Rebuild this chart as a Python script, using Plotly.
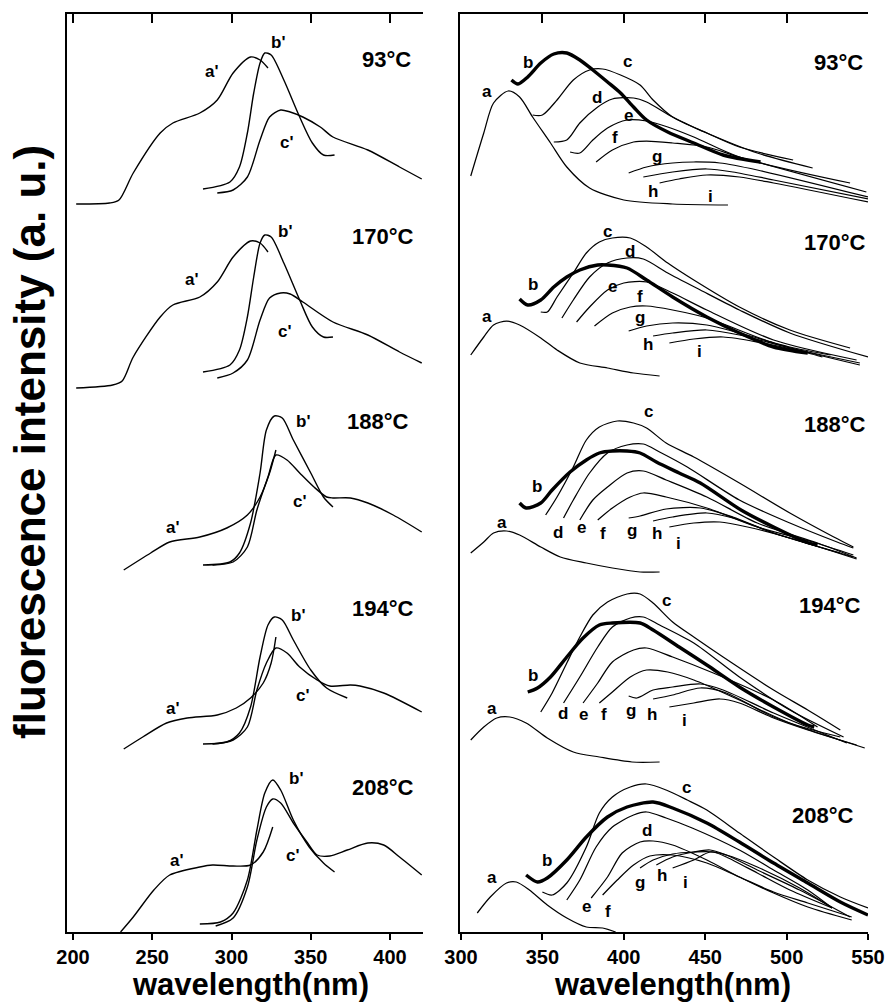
import plotly.graph_objects as go

# ---------------- DATA ----------------
TEMPS = ["93°C", "170°C", "188°C", "194°C", "208°C"]
LEFT_NAMES = ["a'", "b'", "c'"]
RIGHT_NAMES = ["a", "b", "c", "d", "e", "f", "g", "h", "i"]

LEFT_TICKS = [200, 250, 300, 350, 400]
RIGHT_TICKS = [300, 350, 400, 450, 500, 550]

# Left panel (stacked intensity, a.u.) -- curves a', b', c'
L93_WL = [[202, 223, 229, 238, 255, 263, 280, 291, 301, 312, 318, 323],
          [282, 299, 305, 310, 314, 318, 321, 325, 333, 343, 351, 358, 365],
          [291, 301, 310, 318, 324, 331, 337, 345, 356, 364, 386, 406, 420]]
L93_I = [[728, 729, 732, 759, 799, 809, 819, 832, 859, 875, 872, 864],
         [743, 750, 765, 799, 839, 869, 879, 877, 852, 815, 789, 777, 777],
         [739, 742, 755, 792, 815, 822, 820, 815, 805, 795, 782, 765, 753]]

L170_WL = [[202, 225, 231, 238, 255, 263, 280, 291, 301, 312, 318, 323],
           [282, 299, 305, 310, 314, 318, 321, 325, 333, 343, 351, 358, 364],
           [291, 301, 310, 318, 324, 331, 337, 345, 364, 386, 406, 420]]
L170_I = [[544, 547, 551, 575, 615, 627, 635, 650, 675, 691, 689, 680],
          [560, 567, 582, 615, 655, 689, 697, 695, 669, 632, 605, 595, 595],
          [554, 559, 572, 612, 634, 639, 638, 630, 610, 597, 580, 569]]

L188_WL = [[232, 249, 261, 280, 297, 310, 318, 324, 328],
           [282, 299, 305, 312, 318, 322, 327, 332, 339, 350, 358, 364],
           [288, 301, 310, 316, 323, 328, 335, 343, 352, 360, 364, 375, 386, 402, 420]]
L188_I = [[362, 379, 390, 395, 404, 417, 435, 459, 482],
          [367, 370, 379, 409, 459, 502, 516, 514, 492, 459, 435, 425],
          [367, 370, 385, 422, 455, 477, 472, 459, 445, 435, 434, 434, 429, 417, 400]]

L194_WL = [[232, 244, 259, 272, 291, 303, 312, 320, 325, 328],
           [282, 297, 305, 312, 318, 323, 327, 332, 339, 350, 360, 373],
           [288, 301, 310, 316, 322, 328, 335, 343, 354, 362, 375, 381, 396, 420]]
L194_I = [[183, 195, 209, 214, 217, 224, 234, 249, 269, 295],
          [188, 190, 199, 225, 275, 307, 315, 312, 292, 262, 244, 234],
          [188, 192, 205, 242, 269, 284, 279, 265, 252, 246, 247, 246, 239, 220]]

L208_WL = [[230, 238, 251, 261, 280, 288, 301, 312, 320, 326],
           [280, 293, 301, 310, 316, 321, 326, 331, 339, 349, 358, 365],
           [290, 301, 310, 316, 322, 326, 331, 339, 348, 354, 362, 373, 386, 396, 406, 420]]
L208_I = [[0, 15, 42, 57, 65, 67, 66, 67, 80, 105],
          [8, 10, 19, 52, 102, 139, 152, 142, 112, 85, 69, 60],
          [6, 14, 45, 92, 125, 133, 129, 109, 89, 77, 76, 82, 89, 87, 75, 57]]

# Right panel (stacked intensity, a.u.) -- curves a ... i
R93_WL = [[306, 314, 320, 329, 336, 344, 355, 365, 379, 400, 430, 464],
          [331, 335, 341, 349, 357, 365, 373, 381, 390, 398, 406, 414, 427, 443, 461, 484],
          [344, 350, 359, 369, 379, 387, 398, 410, 418, 430, 451, 471, 504],
          [357, 365, 373, 384, 393, 406, 414, 430, 451, 482, 516],
          [367, 373, 381, 390, 402, 414, 427, 443, 471, 539],
          [383, 393, 406, 414, 430, 451, 471, 549],
          [403, 414, 430, 443, 459, 482, 550],
          [412, 430, 451, 467, 492, 550],
          [422, 434, 451, 471, 492, 550]]
R93_I = [[756, 799, 829, 841, 835, 815, 789, 765, 744, 732, 728, 727],
         [852, 848, 855, 869, 878, 879, 872, 862, 850, 839, 825, 812, 800, 789, 777, 770],
         [817, 817, 832, 852, 862, 863, 857, 847, 832, 815, 799, 785, 772],
         [790, 792, 809, 825, 833, 834, 830, 815, 799, 779, 764],
         [780, 779, 792, 804, 812, 811, 805, 795, 775, 749],
         [770, 782, 790, 791, 789, 785, 775, 740],
         [759, 765, 769, 770, 769, 762, 735],
         [755, 760, 763, 760, 752, 733],
         [749, 753, 757, 755, 749, 730]]

R170_WL = [[306, 314, 320, 328, 336, 349, 359, 373, 390, 406, 422],
           [336, 341, 349, 357, 365, 373, 384, 390, 402, 414, 430, 451, 471, 492, 513],
           [349, 353, 359, 369, 377, 385, 393, 404, 414, 427, 443, 471, 502, 539],
           [362, 369, 379, 390, 402, 412, 427, 447, 471, 502, 550],
           [371, 379, 390, 400, 414, 430, 451, 492, 543],
           [382, 393, 404, 414, 430, 451, 492, 545],
           [403, 414, 430, 451, 471, 502, 527],
           [418, 430, 451, 471, 502, 545],
           [428, 443, 461, 482, 513, 522]]
R170_I = [[577, 595, 607, 611, 607, 594, 582, 569, 564, 559, 556],
          [633, 627, 632, 645, 655, 662, 667, 667, 664, 652, 635, 615, 599, 585, 579],
          [620, 620, 635, 659, 679, 690, 694, 694, 685, 669, 652, 625, 602, 584],
          [614, 632, 655, 669, 674, 673, 659, 642, 622, 599, 575],
          [610, 625, 642, 649, 650, 639, 622, 592, 572],
          [606, 619, 625, 626, 622, 614, 589, 567],
          [601, 606, 609, 607, 599, 585, 577],
          [596, 599, 602, 597, 584, 569],
          [589, 593, 595, 590, 579, 575]]

R188_WL = [[306, 314, 320, 328, 336, 349, 361, 377, 393, 410, 422],
           [336, 340, 349, 356, 367, 377, 385, 393, 402, 410, 420, 434, 447, 472, 492, 512, 519],
           [352, 359, 369, 377, 385, 396, 406, 414, 426, 443, 471, 502, 529, 541],
           [363, 369, 379, 390, 402, 412, 422, 439, 471, 502, 531, 541],
           [373, 381, 390, 402, 412, 426, 451, 482, 519, 543],
           [384, 393, 404, 412, 426, 451, 482, 516, 541],
           [403, 410, 426, 447, 467, 492, 541],
           [418, 430, 451, 467, 492, 533],
           [428, 443, 459, 476, 502, 543]]
R188_I = [[379, 390, 399, 401, 397, 385, 375, 369, 364, 360, 360],
          [429, 424, 429, 442, 460, 472, 479, 481, 481, 479, 470, 459, 449, 422, 405, 390, 387],
          [417, 435, 465, 492, 505, 511, 509, 504, 489, 475, 449, 419, 395, 385],
          [414, 432, 459, 479, 487, 488, 480, 465, 432, 409, 390, 384],
          [412, 432, 445, 459, 461, 452, 435, 409, 389, 374],
          [412, 424, 435, 439, 435, 424, 405, 390, 377],
          [414, 416, 423, 424, 415, 399, 375],
          [411, 415, 419, 414, 399, 379],
          [405, 409, 410, 405, 394, 373]]

R194_WL = [[306, 314, 322, 330, 340, 353, 369, 385, 405, 422],
           [341, 347, 355, 365, 375, 385, 393, 410, 418, 434, 451, 471, 492, 513, 517],
           [349, 356, 365, 373, 381, 390, 402, 410, 418, 430, 443, 461, 492, 513, 533],
           [363, 373, 384, 393, 404, 412, 422, 443, 471, 502, 535],
           [375, 384, 393, 406, 414, 430, 455, 492, 519],
           [385, 393, 404, 414, 427, 443, 471, 502, 533],
           [403, 408, 418, 430, 447, 461, 492, 537],
           [418, 430, 447, 463, 492, 548],
           [428, 443, 459, 471, 492, 513, 543]]
R194_I = [[192, 205, 214, 215, 209, 194, 180, 175, 170, 170],
          [240, 244, 255, 275, 294, 307, 309, 309, 302, 285, 267, 245, 225, 207, 205],
          [220, 239, 269, 295, 317, 330, 338, 338, 329, 310, 295, 275, 242, 222, 202],
          [229, 255, 285, 305, 314, 315, 307, 289, 255, 222, 195],
          [229, 249, 270, 282, 284, 275, 259, 232, 205],
          [229, 240, 255, 262, 260, 252, 232, 209, 195],
          [236, 234, 242, 245, 248, 242, 219, 189],
          [233, 237, 244, 239, 215, 184],
          [225, 229, 233, 229, 214, 202, 187]]

R208_WL = [[310, 318, 328, 334, 342, 353, 365, 377, 387, 395],
           [340, 347, 353, 365, 377, 390, 402, 418, 430, 451, 471, 492, 513, 533, 550],
           [350, 356, 365, 377, 385, 393, 404, 414, 426, 439, 451, 471, 492, 513, 533, 550],
           [365, 373, 383, 393, 406, 414, 426, 442, 471, 492, 513, 528],
           [380, 390, 399, 410, 418, 430, 451, 471, 492, 513, 540],
           [387, 396, 406, 416, 430, 451, 471, 492, 513, 540],
           [410, 418, 430, 443, 455, 463, 482, 502, 528],
           [420, 430, 443, 453, 463, 482, 508, 539],
           [430, 443, 453, 463, 482, 508, 528]]
R208_I = [[19, 35, 49, 50, 42, 27, 14, 5, 4, 0],
          [57, 50, 54, 72, 95, 115, 125, 130, 124, 109, 90, 69, 49, 30, 17],
          [40, 37, 49, 85, 119, 135, 145, 148, 142, 132, 122, 99, 75, 52, 35, 24],
          [32, 52, 85, 105, 117, 120, 114, 104, 82, 62, 42, 24],
          [34, 55, 79, 90, 91, 87, 72, 55, 39, 25, 12],
          [37, 52, 67, 76, 77, 69, 55, 40, 29, 15],
          [64, 72, 78, 80, 80, 75, 59, 42, 24],
          [67, 75, 80, 82, 77, 62, 42, 15],
          [64, 72, 80, 77, 65, 44, 24]]

LEFT_WL = [L93_WL, L170_WL, L188_WL, L194_WL, L208_WL]
LEFT_I = [L93_I, L170_I, L188_I, L194_I, L208_I]
RIGHT_WL = [R93_WL, R170_WL, R188_WL, R194_WL, R208_WL]
RIGHT_I = [R93_I, R170_I, R188_I, R194_I, R208_I]

# ---------------- LAYOUT (label placement) ----------------
LEFT_LABEL_POS = [
    [(287.7, 860), (329.3, 889), (335, 789)],
    [(275, 652), (333.8, 700), (333.8, 600)],
    [(263, 405), (345, 510), (343, 430)],
    [(263, 224), (342, 317), (345, 237)],
    [(265.6, 72), (340.7, 154), (338.8, 77)],
]
LEFT_TEMP_POS = [(398, 872), (395.6, 695), (392.4, 510), (395.6, 324), (395.6, 145)]

RIGHT_LABEL_POS = [
    [(316, 840), (341, 869), (402, 870), (383.5, 834), (402.6, 816), (394.6, 794), (420.4, 775), (418, 740), (453, 735)],
    [(316, 615), (344.2, 647), (389.7, 700), (403.8, 680), (392.8, 645), (410, 635), (410, 614), (415, 587), (446.8, 580)],
    [(325.2, 410), (346.7, 445), (414.9, 520), (359.6, 400), (374.3, 405), (387.2, 399), (405, 402), (420.4, 399), (433.3, 389)],
    [(319, 224), (344.2, 257), (426.5, 332), (362.7, 219), (375, 218), (387.8, 218), (404.4, 222), (417.3, 218), (437, 212)],
    [(319, 55), (352.8, 72), (438.8, 145), (414.3, 102), (377.4, 26), (390.3, 21), (410, 50), (423.5, 57), (437.6, 50)],
]
RIGHT_TEMP_POS = [(531.6, 869), (530, 689), (529.7, 507), (526.7, 327), (522.4, 117)]

FONT = "Liberation Sans, Arial, Helvetica, sans-serif"
W, H = 889, 1005

fig = go.Figure()

for g in range(5):
    # the top group is bound to the top (inside-tick) axes so those axes get drawn with ticks
    lx = "x3" if g == 0 else "x"
    rx = "x4" if g == 0 else "x2"
    for k in range(3):
        fig.add_trace(go.Scatter(x=LEFT_WL[g][k], y=LEFT_I[g][k], mode="lines",
                                 line=dict(color="black", width=1.4, shape="spline", smoothing=0.8),
                                 xaxis=lx, yaxis="y", showlegend=False, hoverinfo="skip"))
    for k in range(9):
        wid = 3.4 if RIGHT_NAMES[k] == "b" else 1.25
        fig.add_trace(go.Scatter(x=RIGHT_WL[g][k], y=RIGHT_I[g][k], mode="lines",
                                 line=dict(color="black", width=wid, shape="spline", smoothing=0.8),
                                 xaxis=rx, yaxis="y2", showlegend=False, hoverinfo="skip"))


def ann(x, y, xref, yref, text, size, angle=0):
    return dict(x=x, y=y, xref=xref, yref=yref, text=text, showarrow=False,
                xanchor="center", yanchor="middle", textangle=angle,
                font=dict(family=FONT, size=size, color="black", weight="bold"))


annotations = []
for g in range(5):
    for k, name in enumerate(LEFT_NAMES):
        x, y = LEFT_LABEL_POS[g][k]
        annotations.append(ann(x, y, "x", "y", name, 17))
    for k, name in enumerate(RIGHT_NAMES):
        x, y = RIGHT_LABEL_POS[g][k]
        annotations.append(ann(x, y, "x2", "y2", name, 17))
    x, y = LEFT_TEMP_POS[g]
    annotations.append(ann(x, y, "x", "y", TEMPS[g], 22))
    x, y = RIGHT_TEMP_POS[g]
    annotations.append(ann(x, y, "x2", "y2", TEMPS[g], 22))

annotations.append(ann(30 / W, 1 - 442 / H, "paper", "paper",
                       "fluorescence intensity (a. u.)", 44, angle=-90))
annotations.append(ann(250 / W, 1 - 984 / H, "paper", "paper", "wavelength(nm)", 31))
annotations.append(ann(672 / W, 1 - 984 / H, "paper", "paper", "wavelength(nm)", 31))

LDOM = [67 / W, 423 / W]
RDOM = [460 / W, 868 / W]
YDOM = [1 - 932 / H, 1 - 14 / H]
LRANGE = [196.2, 420.8]
RRANGE = [299.4, 550]
YRANGE = [0, 918]

tickfont = dict(family=FONT, size=20, color="black", weight="bold")
common_x = dict(showline=True, linecolor="black", linewidth=2, showgrid=False, zeroline=False,
                ticks="outside", ticklen=6, tickwidth=2, tickcolor="black", tickfont=tickfont,
                automargin=False)
common_top = dict(showline=True, linecolor="black", linewidth=2, showgrid=False, zeroline=False,
                  ticks="inside", ticklen=9, tickwidth=2, tickcolor="black", showticklabels=False,
                  side="top", automargin=False)
common_y = dict(showline=True, linecolor="black", linewidth=2, showgrid=False, zeroline=False,
                ticks="", showticklabels=False, range=YRANGE, domain=YDOM, automargin=False)

fig.update_layout(
    width=W, height=H,
    margin=dict(l=0, r=0, t=0, b=0, autoexpand=False),
    paper_bgcolor="white", plot_bgcolor="white",
    showlegend=False,
    xaxis=dict(domain=LDOM, range=LRANGE, tickvals=LEFT_TICKS, anchor="y", **common_x),
    xaxis2=dict(domain=RDOM, range=RRANGE, tickvals=RIGHT_TICKS, anchor="y2", **common_x),
    xaxis3=dict(overlaying="x", range=LRANGE, tickvals=LEFT_TICKS, anchor="y", **common_top),
    xaxis4=dict(overlaying="x2", range=RRANGE, tickvals=RIGHT_TICKS, anchor="y2", **common_top),
    yaxis=dict(anchor="x", **common_y),
    yaxis2=dict(anchor="x2", **common_y),
    annotations=annotations,
)

fig.write_html("out.html")
